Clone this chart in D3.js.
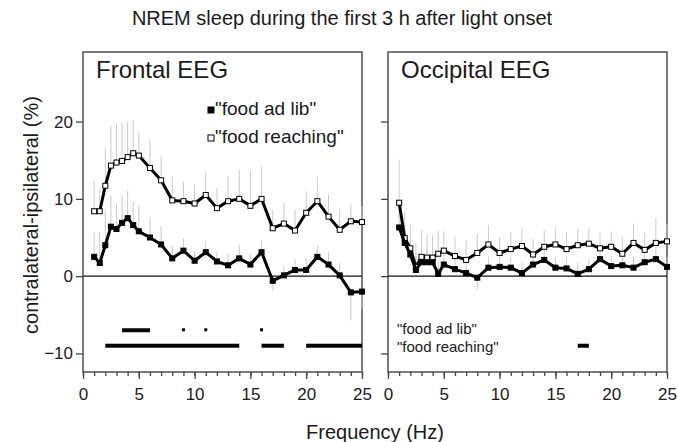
<!DOCTYPE html>
<html>
<head>
<meta charset="utf-8">
<script src="https://cdn.jsdelivr.net/npm/d3@7"></script>
<style>
body{margin:0;background:#fff;font-family:Arial,"Liberation Sans",sans-serif}
text{font-family:Arial,"Liberation Sans",sans-serif;fill:#1a1a1a}
.axis text{font-size:17px}
.axis path,.axis line{stroke:#444;stroke-width:1.3}
</style>
</head>
<body>
<script>
// frequency bins (Hz)
var freqs = [1,1.5,2,2.5,3,3.5,4,4.5,5,6,7,8,9,10,11,12,13,14,15,16,17,18,19,20,21,22,23,24,25]

// frontal EEG
var frontalAdLib    = [2.5,1.7,4.0,6.4,6.1,6.9,7.5,6.6,5.8,5.0,4.1,2.3,3.3,2.0,3.1,1.9,1.4,2.3,1.5,3.1,-0.6,0.1,0.8,0.8,2.5,1.5,0.1,-2.1,-2.0]
var frontalAdLibErr = [3.2,4.0,4.5,4.0,3.2,3.5,3.6,3.0,3.4,2.6,2.4,1.6,1.6,1.2,1.4,1.2,1.5,1.8,1.4,1.5,1.2,1.3,1.4,1.6,1.5,1.6,1.6,3.6,2.2]
var frontalReach    = [8.4,8.4,11.7,14.3,14.7,14.9,15.4,15.9,15.6,14.0,12.4,9.8,9.7,9.4,10.5,8.8,9.7,10.0,9.1,10.0,6.2,6.8,5.9,8.2,9.7,7.7,6.0,7.1,7.0]
var frontalReachErr = [3.9,3.0,4.9,5.1,5.0,5.0,4.6,4.3,3.1,3.7,3.1,3.0,2.5,2.5,2.9,2.6,3.2,3.8,4.5,4.2,2.4,2.7,2.7,2.8,3.2,2.9,2.6,2.2,2.0]

// occipital EEG
var occAdLib    = [6.3,4.3,2.8,0.8,1.8,1.8,1.8,0.3,1.5,0.9,0.4,-0.2,1.1,1.2,1.1,0.4,1.5,2.1,1.1,1.0,0.3,0.9,2.2,1.3,1.4,1.1,1.8,2.2,1.2]
var occAdLibErr = [3.0,2.5,2.0,1.8,1.6,1.6,1.5,1.5,1.5,1.4,1.4,1.5,1.4,1.3,1.4,1.4,1.3,1.4,1.3,1.4,1.4,1.3,1.4,1.3,1.3,1.4,1.4,1.5,1.3]
var occReach    = [9.5,4.9,3.6,1.2,2.5,2.4,2.4,2.9,3.3,2.6,2.1,3.0,4.1,3.0,3.5,3.9,2.8,3.8,4.1,3.5,4.0,4.2,3.6,3.8,2.9,4.3,3.4,4.3,4.5]
var occReachErr = [5.6,3.5,3.0,3.0,3.5,3.0,3.0,3.0,2.5,2.5,2.5,2.5,2.5,2.0,2.2,2.3,2.0,2.2,2.2,2.2,2.3,2.0,2.0,2.0,2.2,2.5,2.2,3.2,2.3]

// significance bars [from Hz, to Hz]
var sigFrontalAdLib = [[3.5,6],[9,9],[11,11],[16,16]]
var sigFrontalReach = [[2,14],[16,18],[20,25]]
var sigOccAdLib = []
var sigOccReach = [[17,18]]

var yTicks = [-10,0,10,20]
var xTicks = [0,5,10,15,20,25]

var svg = d3.select("body").append("svg")
    .attr("width",678)
    .attr("height",442)

var y = d3.scaleLinear().domain([-12.4,29]).range([372,52])

svg.append("text")
    .attr("x",342).attr("y",25)
    .attr("text-anchor","middle")
    .style("font-size","20px")
    .text("NREM sleep during the first 3 h after light onset")

svg.append("text")
    .attr("transform","translate(38,215) rotate(-90)")
    .attr("text-anchor","middle")
    .style("font-size","20px")
    .text("contralateral-ipsilateral (%)")

svg.append("text")
    .attr("x",375).attr("y",439)
    .attr("text-anchor","middle")
    .style("font-size","20px")
    .text("Frequency (Hz)")

function panel(x0, x1, title, adlib, adlibErr, reach, reachErr, sigA, sigR, showYLabels){
    var x = d3.scaleLinear().domain([0,25]).range([x0,x1])
    var g = svg.append("g")

    // y axis
    var yAxis = d3.axisLeft(y).tickValues(yTicks).tickSize(7).tickSizeOuter(0)
    if(!showYLabels) yAxis.tickFormat("")
    g.append("g").attr("class","axis y")
        .attr("transform","translate("+x0+",0)")
        .call(yAxis)
        .call(function(a){a.select(".domain").remove()})

    // x axis, minor then major
    g.append("g").attr("class","axis x")
        .attr("transform","translate(0,"+y.range()[0]+")")
        .call(d3.axisBottom(x).ticks(25).tickSize(4).tickFormat("").tickSizeOuter(0))
        .call(function(a){a.select(".domain").remove()})
    g.append("g").attr("class","axis x")
        .attr("transform","translate(0,"+y.range()[0]+")")
        .call(d3.axisBottom(x).tickValues(xTicks).tickSize(7).tickPadding(9).tickSizeOuter(0))
        .call(function(a){a.select(".domain").remove()})

    // frame
    g.append("rect")
        .attr("x",x0).attr("y",y.range()[1])
        .attr("width",x1-x0).attr("height",y.range()[0]-y.range()[1])
        .attr("fill","none").attr("stroke","#444").attr("stroke-width",1.4)

    // zero line
    g.append("line")
        .attr("x1",x0).attr("x2",x1)
        .attr("y1",y(0)).attr("y2",y(0))
        .attr("stroke","#111").attr("stroke-width",1.3)

    g.append("text")
        .attr("x",x0+13).attr("y",78)
        .style("font-size","24px")
        .text(title)

    var series = [
        {vals:reach, err:reachErr, fill:"#fff"},
        {vals:adlib, err:adlibErr, fill:"#000"}
    ]

    // error bars, pointing away from zero
    series.forEach(function(s){
        g.selectAll(null).data(freqs).enter().append("line")
            .attr("x1",function(d){return x(d)})
            .attr("x2",function(d){return x(d)})
            .attr("y1",function(d,i){return y(s.vals[i])})
            .attr("y2",function(d,i){var v=s.vals[i]; return y(v>=0 ? v+s.err[i] : v-s.err[i])})
            .attr("stroke","#cbcbcb").attr("stroke-width",1)
    })

    var line = d3.line()
        .x(function(d){return x(d[0])})
        .y(function(d){return y(d[1])})

    series.forEach(function(s){
        var pts = freqs.map(function(f,i){return [f,s.vals[i]]})
        g.append("path").datum(pts)
            .attr("d",line)
            .attr("fill","none").attr("stroke","#000").attr("stroke-width",3)
            .attr("stroke-linejoin","round")
        g.selectAll(null).data(pts).enter().append("rect")
            .attr("x",function(d){return x(d[0])-2.5})
            .attr("y",function(d){return y(d[1])-2.5})
            .attr("width",5).attr("height",5)
            .attr("fill",s.fill).attr("stroke","#000").attr("stroke-width",1)
    })

    // significance bars
    ;[[sigA,-7],[sigR,-9]].forEach(function(row){
        g.selectAll(null).data(row[0]).enter().append("rect")
            .attr("x",function(d){return d[0]==d[1] ? x(d[0])-1.5 : x(d[0])})
            .attr("y",y(row[1])-2)
            .attr("width",function(d){return d[0]==d[1] ? 3 : x(d[1])-x(d[0])})
            .attr("height",function(d){return d[0]==d[1] ? 3 : 4})
            .attr("fill","#000")
    })
    return x
}

var xL = panel(83,362,"Frontal EEG",frontalAdLib,frontalAdLibErr,frontalReach,frontalReachErr,sigFrontalAdLib,sigFrontalReach,true)
var xR = panel(388,667,"Occipital EEG",occAdLib,occAdLibErr,occReach,occReachErr,sigOccAdLib,sigOccReach,false)

// legend in frontal panel
var legend = [["\"food ad lib\"","#000"],["\"food reaching\"","#fff"]]
legend.forEach(function(d,i){
    var ly = 109 + i*28
    svg.append("rect")
        .attr("x",208).attr("y",ly-2)
        .attr("width",6).attr("height",6)
        .attr("fill",d[1]).attr("stroke","#000").attr("stroke-width",1)
    svg.append("text")
        .attr("x",215).attr("y",ly+6)
        .style("font-size","19px")
        .text(d[0])
})

// significance row labels in occipital panel
svg.append("text").attr("x",397).attr("y",y(-7)+4).style("font-size","15px").text("\"food ad lib\"")
svg.append("text").attr("x",397).attr("y",y(-9)+6).style("font-size","15px").text("\"food reaching\"")
</script>
</body>
</html>
